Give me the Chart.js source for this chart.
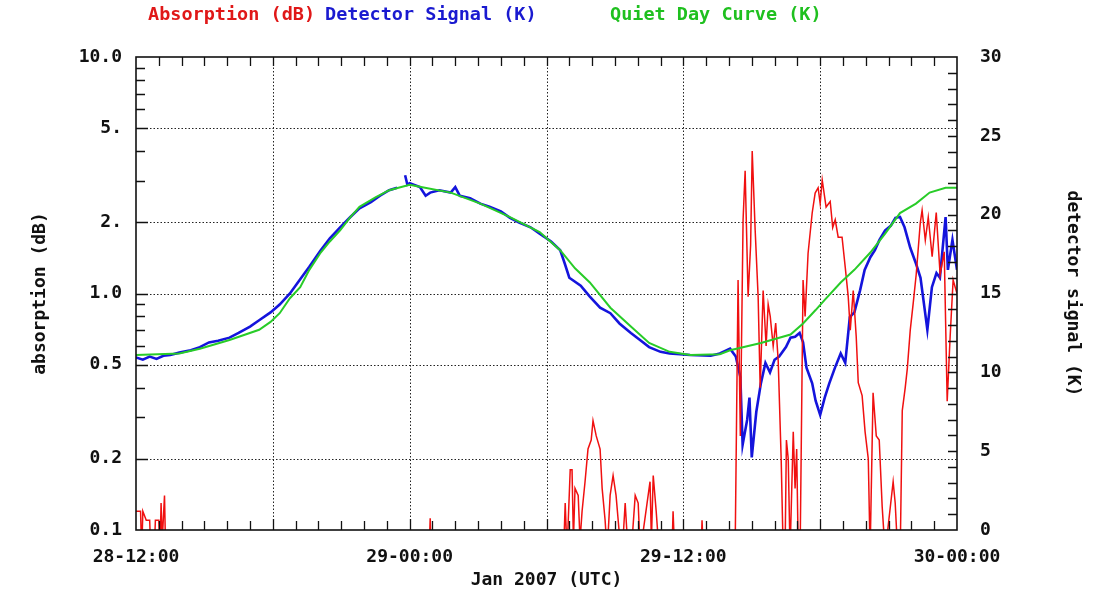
<!DOCTYPE html>
<html>
<head>
<meta charset="utf-8">
<script src="https://cdn.jsdelivr.net/npm/chart.js@4.4.1/dist/chart.umd.min.js"></script>
<style>
  html, body { margin: 0; padding: 0; background: #fff; }
</style>
</head>
<body>
<canvas id="chart" width="1100" height="599"></canvas>
<script>
// hours since 28-12:00 UTC
const xTickHours = [0, 12, 24, 36]
const xTickLabels = ['28-12:00', '29-00:00', '29-12:00', '30-00:00']
const xGridHours = [6, 12, 18, 24, 30]

const dbTicks = [0.1, 0.2, 0.5, 1, 2, 5, 10]
const dbTickLabels = ['0.1', '0.2', '0.5', '1.0', '2.', '5.', '10.0']
const dbGrid = [0.2, 0.5, 1, 2, 5]
const dbMinor = [0.3, 0.4, 0.6, 0.7, 0.8, 0.9, 3, 4, 6, 7, 8, 9]
const kTicks = [0, 5, 10, 15, 20, 25, 30]

const quietHours = [0, 1.9, 2.8, 4.1, 5.4, 5.9, 6.3, 6.75, 7.2, 7.6, 8.1, 8.5, 8.95, 9.4, 9.8, 10.5, 11.1, 12.0, 12.5, 13.8, 15.1, 16.4, 17.7, 18.6, 19.25, 19.9, 20.8, 21.7, 22.5, 23.4, 24.3, 25.6, 26.05, 27.4, 28.7, 29.25, 29.8, 30.2, 30.9, 31.5, 32.2, 32.85, 33.5, 34.2, 34.8, 35.5, 36]
const quietK = [11.1, 11.2, 11.5, 12.05, 12.7, 13.2, 13.75, 14.7, 15.4, 16.5, 17.6, 18.3, 19.0, 19.85, 20.5, 21.1, 21.55, 21.9, 21.75, 21.4, 20.7, 19.85, 18.9, 17.75, 16.6, 15.7, 14.1, 12.9, 11.86, 11.3, 11.1, 11.15, 11.4, 11.86, 12.4, 13.1, 13.95, 14.6, 15.7, 16.5, 17.6, 18.8, 20.1, 20.7, 21.4, 21.7, 21.7]

const detectorHours = [0, 0.3, 0.6, 0.9, 1.2, 1.5, 1.9, 2.4, 2.8, 3.2, 3.6, 4.1, 4.5, 5.0, 5.4, 5.9, 6.3, 6.75, 7.2, 7.6, 8.1, 8.5, 8.95, 9.4, 9.8, 10.3, 10.7, 11.1, 11.45, 11.6, 11.8, 11.9, 12.0, 12.45, 12.7, 12.9, 13.3, 13.8, 14.0, 14.2, 14.65, 15.1, 15.5, 16.0, 16.4, 16.8, 17.3, 17.7, 18.2, 18.6, 18.8, 19.0, 19.5, 19.9, 20.35, 20.8, 21.2, 21.7, 22.1, 22.5, 23.0, 23.4, 24.3, 25.2, 25.6, 26.05, 26.3, 26.5, 26.6, 26.8, 26.9, 27.0, 27.2, 27.4, 27.6, 27.8, 28.0, 28.2, 28.5, 28.7, 28.9, 29.1, 29.25, 29.4, 29.65, 29.8, 30.0, 30.2, 30.4, 30.65, 30.9, 31.1, 31.3, 31.5, 31.75, 31.95, 32.2, 32.4, 32.6, 32.85, 33.1, 33.3, 33.5, 33.7, 33.95, 34.2, 34.4, 34.6, 34.7, 34.9, 35.1, 35.25, 35.5, 35.6, 35.8, 36.0]
const detectorK = [10.95, 10.8, 11.0, 10.85, 11.05, 11.1, 11.25, 11.4, 11.6, 11.9, 12.0, 12.2, 12.5, 12.9, 13.3, 13.8, 14.3, 15.0, 15.9, 16.7, 17.75, 18.5, 19.2, 19.85, 20.4, 20.8, 21.2, 21.55, 21.7, null, 22.5, 21.9, 22.0, 21.75, 21.2, 21.4, 21.55, 21.4, 21.75, 21.2, 21.05, 20.7, 20.5, 20.2, 19.8, 19.5, 19.2, 18.8, 18.3, 17.75, 16.9, 16.0, 15.5, 14.8, 14.1, 13.75, 13.1, 12.5, 12.05, 11.6, 11.3, 11.2, 11.1, 11.05, 11.2, 11.5, 11.0, 9.7, 5.4, 7.0, 8.4, 4.6, 7.5, 9.3, 10.6, 10.0, 10.8, 11.0, 11.6, 12.2, 12.25, 12.5, 11.9, 10.3, 9.3, 8.2, 7.3, 8.4, 9.3, 10.3, 11.2, 10.6, 13.5, 13.8, 15.2, 16.5, 17.3, 17.75, 18.4, 19.0, 19.3, 19.8, 19.85, 19.2, 17.9, 16.9, 16.0, 13.8, 12.7, 15.4, 16.3, 16.0, 19.85, 16.5, 18.4, 16.5]

// 0.08 = below the 0.1 dB floor (clipped off the plot)
const absorptionHours = [0, 0.2, 0.25, 0.3, 0.45, 0.6, 0.65, 0.8, 0.85, 1.0, 1.05, 1.1, 1.15, 1.25, 1.3,
  12.85, 12.9, 12.95,
  18.75, 18.82, 18.9, 19.04, 19.12, 19.18, 19.25, 19.39, 19.47, 19.56, 19.69, 19.82, 19.96, 20.04, 20.18, 20.35, 20.44, 20.57, 20.66, 20.79, 20.92, 21.05, 21.18, 21.32, 21.45, 21.58, 21.75, 21.89, 22.02, 22.11, 22.41, 22.54, 22.6, 22.68, 22.81, 22.94,
  23.5, 23.55, 23.62, 24.78, 24.82, 24.88,
  26.2, 26.27, 26.4, 26.5, 26.62, 26.71, 26.84, 26.95, 27.02, 27.15, 27.28, 27.37, 27.5, 27.63, 27.72, 27.81, 27.94, 28.05, 28.16, 28.29, 28.38, 28.46, 28.52, 28.6, 28.68, 28.82, 28.9, 28.97, 29.04, 29.12,
  29.25, 29.34, 29.47, 29.65, 29.78, 29.91, 30.0, 30.09, 30.26, 30.44, 30.55, 30.66, 30.79, 30.96, 31.1, 31.23, 31.32, 31.45, 31.58, 31.67, 31.84, 31.97, 32.11, 32.19, 32.32, 32.46, 32.59, 32.72, 32.85,
  33.2, 33.29, 33.4, 33.51, 33.6, 33.73, 33.82, 33.95, 34.08, 34.21, 34.39, 34.47, 34.61, 34.74, 34.91, 35.09, 35.26, 35.44, 35.57, 35.7, 35.83, 36.0]
const absorptionDb = [0.12, 0.12, 0.08, 0.12, 0.11, 0.11, 0.08, 0.08, 0.11, 0.11, 0.08, 0.13, 0.09, 0.14, 0.08,
  0.08, 0.112, 0.08,
  0.08, 0.13, 0.08, 0.18, 0.18, 0.09, 0.15, 0.14, 0.09, 0.12, 0.16, 0.22, 0.24, 0.29, 0.25, 0.22, 0.15, 0.11, 0.08, 0.14, 0.17, 0.14, 0.10, 0.08, 0.13, 0.08, 0.09, 0.14, 0.13, 0.08, 0.13, 0.16, 0.09, 0.17, 0.12, 0.08,
  0.08, 0.12, 0.08, 0.08, 0.11, 0.08,
  0.08, 0.08, 1.14, 0.25, 2.05, 3.3, 0.97, 1.6, 4.0, 1.85, 0.97, 0.4, 1.03, 0.6, 0.9, 0.8, 0.6, 0.75, 0.52, 0.2, 0.08, 0.08, 0.24, 0.2, 0.08, 0.26, 0.15, 0.22, 0.08, 0.08,
  1.14, 0.8, 1.48, 2.19, 2.66, 2.8, 2.4, 3.02, 2.32, 2.45, 1.9, 2.05, 1.73, 1.73, 1.29, 0.97, 0.7, 1.03, 0.66, 0.42, 0.37, 0.26, 0.2, 0.08, 0.38, 0.25, 0.24, 0.125, 0.08,
  0.16, 0.13, 0.08, 0.08, 0.32, 0.4, 0.48, 0.7, 0.91, 1.2, 1.99, 2.25, 1.68, 2.1, 1.43, 2.2, 1.2, 1.5, 0.35, 0.66, 1.14, 1.0]

const FONT = { family: "'DejaVu Sans Mono', monospace", size: 18, weight: 'bold' }
const INK = '#111'

function points (xs, ys) {
  return xs.map((x, i) => ({ x, y: ys[i] }))
}

const axesFrame = {
  id: 'axesFrame',
  beforeDatasetsDraw (chart) {
    const { ctx, chartArea: a, scales } = chart
    ctx.save()
    ctx.strokeStyle = '#222'
    ctx.lineWidth = 1
    ctx.setLineDash([1.5, 2])
    ctx.beginPath()
    xGridHours.forEach(h => {
      const px = Math.round(scales.x.getPixelForValue(h)) + 0.5
      ctx.moveTo(px, a.top)
      ctx.lineTo(px, a.bottom)
    })
    dbGrid.forEach(v => {
      const py = Math.round(scales.db.getPixelForValue(v)) + 0.5
      ctx.moveTo(a.left, py)
      ctx.lineTo(a.right, py)
    })
    ctx.stroke()
    ctx.restore()
  },
  afterDatasetsDraw (chart) {
    const { ctx, chartArea: a, scales } = chart
    ctx.save()
    ctx.strokeStyle = INK
    ctx.lineWidth = 1.3
    ctx.beginPath()
    // hourly ticks, top and bottom
    for (let h = 1; h < 36; h++) {
      const px = Math.round(scales.x.getPixelForValue(h)) + 0.5
      const len = h % 6 === 0 ? 11 : 9
      ctx.moveTo(px, a.bottom); ctx.lineTo(px, a.bottom - len)
      ctx.moveTo(px, a.top); ctx.lineTo(px, a.top + 9)
    }
    dbGrid.concat(dbMinor).forEach(v => {
      const py = Math.round(scales.db.getPixelForValue(v)) + 0.5
      const len = dbGrid.includes(v) ? 12 : 9
      ctx.moveTo(a.left, py); ctx.lineTo(a.left + len, py)
    })
    for (let k = 1; k < 30; k++) {
      const py = Math.round(scales.k.getPixelForValue(k)) + 0.5
      ctx.moveTo(a.right, py); ctx.lineTo(a.right - 9, py)
    }
    ctx.stroke()
    ctx.lineWidth = 1.6
    ctx.strokeRect(a.left, a.top, a.right - a.left, a.bottom - a.top)
    ctx.restore()
  },
  afterDraw (chart) {
    const { ctx } = chart
    const xs = [148, 325, 610]
    ctx.save()
    ctx.font = "bold 18.5px 'DejaVu Sans Mono', monospace"
    ctx.textBaseline = 'middle'
    chart.data.datasets.forEach((ds, i) => {
      ctx.fillStyle = ds.legendColor
      ctx.fillText(ds.label, xs[i], 15)
    })
    ctx.restore()
  }
}

new Chart(document.getElementById('chart'), {
  type: 'line',
  data: {
    datasets: [
      { label: 'Absorption (dB)', data: points(absorptionHours, absorptionDb), yAxisID: 'db', borderColor: '#f01010', legendColor: '#e01818', borderWidth: 1.5, order: 2, clip: 0 },
      { label: 'Detector Signal (K)', data: points(detectorHours, detectorK), yAxisID: 'k', borderColor: '#1414dc', legendColor: '#1a1ad0', borderWidth: 2.6, order: 3, clip: 0 },
      { label: 'Quiet Day Curve (K)', data: points(quietHours, quietK), yAxisID: 'k', borderColor: '#28cc28', legendColor: '#1fc01f', borderWidth: 2, order: 1, clip: 0 }
    ]
  },
  options: {
    responsive: false,
    animation: false,
    devicePixelRatio: 1,
    elements: { point: { radius: 0 }, line: { tension: 0 } },
    layout: { padding: { top: 57, left: 0, right: 0, bottom: 0 } },
    plugins: { legend: { display: false }, tooltip: { enabled: false } },
    scales: {
      x: {
        type: 'linear',
        min: 0,
        max: 36,
        afterBuildTicks: s => { s.ticks = xTickHours.map(v => ({ value: v })) },
        afterFit: s => { s.height = 69 },
        ticks: { callback: (v, i) => xTickLabels[i], font: FONT, color: INK, padding: 17, maxRotation: 0, autoSkip: false },
        grid: { display: false, drawTicks: false },
        border: { display: false },
        title: { display: true, text: 'Jan 2007 (UTC)', font: FONT, color: INK, padding: { top: 0, bottom: 8 } }
      },
      db: {
        type: 'logarithmic',
        position: 'left',
        min: 0.1,
        max: 10,
        afterBuildTicks: s => { s.ticks = dbTicks.map(v => ({ value: v })) },
        afterFit: s => { s.width = 136 },
        ticks: { callback: (v, i) => dbTickLabels[i], font: FONT, color: INK, padding: 14, autoSkip: false },
        grid: { display: false, drawTicks: false },
        border: { display: false },
        title: { display: true, text: 'absorption (dB)', font: FONT, color: INK, padding: { top: 30, bottom: 0 } }
      },
      k: {
        type: 'linear',
        position: 'right',
        min: 0,
        max: 30,
        afterBuildTicks: s => { s.ticks = kTicks.map(v => ({ value: v })) },
        afterFit: s => { s.width = 143 },
        ticks: { font: FONT, color: INK, padding: 23, autoSkip: false },
        grid: { display: false, drawTicks: false },
        border: { display: false },
        title: { display: true, text: 'detector signal (K)', font: FONT, color: INK, padding: { top: 17, bottom: 0 } }
      }
    }
  },
  plugins: [axesFrame]
})
</script>
</body>
</html>
